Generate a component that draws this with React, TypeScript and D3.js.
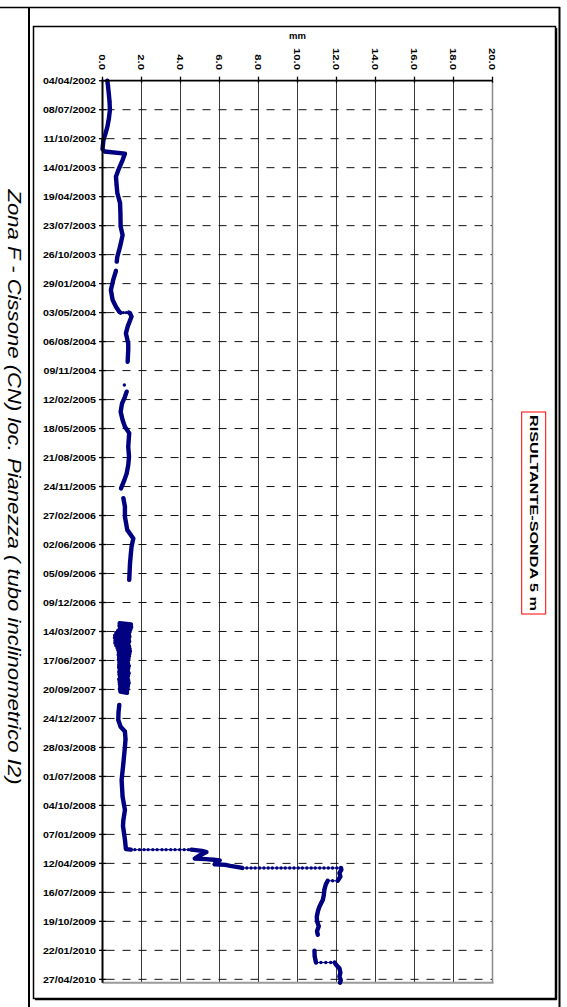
import React from "react";
import * as d3 from "d3";

const axisStart = "2002-04-04";
const axisEnd = "2010-05-08";
const valueTicks = [0, 2, 4, 6, 8, 10, 12, 14, 16, 18, 20];
const dateTickLabels = [
  "04/04/2002", "08/07/2002", "11/10/2002", "14/01/2003", "19/04/2003", "23/07/2003",
  "26/10/2003", "29/01/2004", "03/05/2004", "06/08/2004", "09/11/2004", "12/02/2005",
  "18/05/2005", "21/08/2005", "24/11/2005", "27/02/2006", "02/06/2006", "05/09/2006",
  "09/12/2006", "14/03/2007", "17/06/2007", "20/09/2007", "24/12/2007", "28/03/2008",
  "01/07/2008", "04/10/2008", "07/01/2009", "12/04/2009", "16/07/2009", "19/10/2009",
  "22/01/2010", "27/04/2010",
];
const titleText = "Zona F - Cissone (CN) loc. Pianezza ( tubo inclinometrico I2)";
const legendText = "RISULTANTE-SONDA 5 m";
const axisTitle = "mm";

// readings (date, mm); null = gap in the record; repeated dates = several readings on one day
const traceDates: (string | null)[] = [
  "2002-04-04", "2002-04-20", "2002-05-14", "2002-06-10", "2002-07-09", "2002-08-05",
  "2002-09-02", "2002-09-25", "2002-10-15", "2002-11-14", "2002-11-22", "2002-11-29",
  "2002-12-20", "2003-01-22", "2003-02-13", "2003-03-10", "2003-04-07", "2003-05-10",
  "2003-06-15", "2003-07-26", "2003-08-23", "2003-09-30", "2003-11-02", "2003-11-18",
  null,
  "2003-12-18", "2004-01-17", "2004-02-19", "2004-03-23", "2004-04-14", "2004-04-30",
  "2004-05-03", "2004-05-03", "2004-05-03", "2004-05-03",
  "2004-05-05", "2004-05-16", "2004-06-18", "2004-07-10", "2004-08-12", "2004-09-02", "2004-10-11",
  null,
  "2004-12-26",
  null,
  "2005-01-17", "2005-02-03", "2005-02-25", "2005-03-24", "2005-04-20", "2005-05-12",
  "2005-06-02", "2005-07-16", "2005-08-18", "2005-09-15", "2005-10-12", "2005-11-03", "2005-11-30",
  null,
  "2006-01-01", "2006-01-29", "2006-03-03", "2006-04-15", "2006-05-13", "2006-06-09",
  "2006-07-05", "2006-08-03", "2006-09-26",
  null,
  "2007-11-10", "2007-12-05", "2007-12-29", "2008-01-20", "2008-02-05", "2008-03-01",
  "2008-03-26", "2008-05-19", "2008-07-13", "2008-09-05", "2008-10-19", "2008-11-21",
  "2008-12-10", "2009-01-24", "2009-02-24",
  "2009-02-26", "2009-02-26", "2009-02-26", "2009-02-26", "2009-02-26", "2009-02-26", "2009-02-26", "2009-02-26",
  "2009-02-26", "2009-02-26", "2009-02-26", "2009-02-26", "2009-02-26", "2009-02-26", "2009-02-26",
  "2009-03-02", "2009-03-06", "2009-03-16", "2009-03-27", "2009-03-29", "2009-03-31",
  "2009-04-02", "2009-04-09", "2009-04-15", "2009-04-17", "2009-04-20", "2009-04-24",
  "2009-04-27", "2009-04-27", "2009-04-27", "2009-04-27", "2009-04-27", "2009-04-27", "2009-04-27", "2009-04-27",
  "2009-04-27", "2009-04-27", "2009-04-27", "2009-04-27", "2009-04-27", "2009-04-27", "2009-04-27", "2009-04-27",
  "2009-04-27", "2009-04-27", "2009-04-27", "2009-04-27", "2009-04-27", "2009-04-27", "2009-04-27", "2009-04-27",
  "2009-05-03", "2009-05-13", "2009-05-25", "2009-06-08", "2009-06-08", "2009-06-08",
  "2009-06-20", "2009-07-07", "2009-07-25", "2009-08-09", "2009-08-31", "2009-09-15",
  "2009-10-03", "2009-10-18", "2009-11-04", "2009-11-20", "2009-12-02",
  null,
  "2010-01-23", "2010-02-10", "2010-02-23",
  "2010-03-03", "2010-03-03", "2010-03-03", "2010-03-03", "2010-03-03",
  "2010-03-12", "2010-03-22", "2010-04-05", "2010-04-18", "2010-04-30", "2010-05-08",
];
const traceValues: (number | null)[] = [
  0.25, 0.28, 0.32, 0.36, 0.38, 0.33,
  0.25, 0.15, 0.05, 0.0, 0.1, 1.15,
  1.03, 0.81, 0.69, 0.72, 0.76, 0.9,
  0.92, 0.93, 1.03, 0.9, 0.76, 0.73,
  null,
  0.69, 0.55, 0.43, 0.52, 0.69, 0.86,
  0.92, 1.07, 1.22, 1.36,
  1.41, 1.49, 1.29, 1.2, 1.32, 1.32, 1.29,
  null,
  1.12,
  null,
  1.24, 1.15, 1.0, 0.93, 1.03, 1.15,
  1.37, 1.32, 1.36, 1.32, 1.24, 1.12, 0.95,
  null,
  1.07, 1.15, 1.15, 1.27, 1.58, 1.49,
  1.45, 1.41, 1.37,
  null,
  0.86, 0.82, 0.81, 0.93, 1.15, 1.18,
  1.15, 1.07, 0.98, 1.03, 1.15, 1.07,
  1.05, 1.15, 1.2,
  1.45, 1.66, 1.9, 2.13, 2.34, 2.58, 2.8, 3.05,
  3.26, 3.5, 3.72, 3.96, 4.19, 4.41, 4.56,
  5.1, 5.33, 5.0, 4.73, 5.3, 5.7,
  6.01, 5.8, 5.75, 6.3, 6.55, 6.95,
  7.17, 7.4, 7.62, 7.83, 8.06, 8.28, 8.5, 8.71,
  8.94, 9.16, 9.37, 9.6, 9.82, 10.04, 10.25, 10.48,
  10.7, 10.91, 11.14, 11.36, 11.58, 11.8, 12.02, 12.23,
  12.25, 12.15, 12.2, 12.06, 11.8, 11.55,
  11.45, 11.38, 11.35, 11.3, 11.13, 11.05,
  10.99, 11.0, 11.09, 11.0, 11.04,
  null,
  10.87, 10.88, 10.92,
  10.95, 11.2, 11.45, 11.7, 11.9,
  12.0, 12.15, 12.2, 12.15, 12.22, 12.18,
];

// noisy 2007 block of readings
const blobDates: string[] = [
  "2007-02-15", "2007-02-19", "2007-02-23", "2007-02-27", "2007-03-03", "2007-03-07",
  "2007-03-11", "2007-03-15", "2007-03-19", "2007-03-23", "2007-03-27", "2007-03-31",
  "2007-04-04", "2007-04-08", "2007-04-12", "2007-04-16", "2007-04-20", "2007-04-24",
  "2007-04-28", "2007-05-02", "2007-05-06", "2007-05-10", "2007-05-14", "2007-05-18",
  "2007-05-22", "2007-05-26", "2007-05-30", "2007-06-03", "2007-06-07", "2007-06-11",
  "2007-06-15", "2007-06-19", "2007-06-23", "2007-06-27", "2007-07-01", "2007-07-05",
  "2007-07-09", "2007-07-13", "2007-07-17", "2007-07-21", "2007-07-25", "2007-07-29",
  "2007-08-02", "2007-08-06", "2007-08-10", "2007-08-14", "2007-08-18", "2007-08-22",
  "2007-08-26", "2007-08-30", "2007-09-03", "2007-09-07", "2007-09-11", "2007-09-15",
  "2007-09-19", "2007-09-23", "2007-09-27", "2007-10-01",
];
const blobValues: number[] = [
  0.88, 1.46, 0.87, 1.47, 0.89, 1.43,
  0.81, 1.39, 0.71, 1.36, 0.65, 1.38,
  0.64, 1.35, 0.67, 1.37, 0.66, 1.33,
  0.71, 1.36, 0.77, 1.39, 0.81, 1.41,
  0.84, 1.38, 0.83, 1.36, 0.85, 1.33,
  0.84, 1.29, 0.87, 1.31, 0.86, 1.35,
  0.85, 1.32, 0.88, 1.3, 0.86, 1.34,
  0.87, 1.31, 0.89, 1.29, 0.86, 1.32,
  0.88, 1.34, 0.89, 1.31, 0.91, 1.29,
  0.89, 1.27, 0.92, 1.26,
];

type Pt = { key: string; d: Date; v: number };

const parseISO = d3.utcParse("%Y-%m-%d");
const parseDMY = d3.utcParse("%d/%m/%Y");

function splitSegments(dates: (string | null)[], values: (number | null)[]): Pt[][] {
  const segs: Pt[][] = [];
  let cur: Pt[] = [];
  const n = Math.min(dates.length, values.length);
  for (let i = 0; i < n; i++) {
    const ds = dates[i];
    const v = values[i];
    if (ds === null || v === null) {
      if (cur.length) segs.push(cur);
      cur = [];
      continue;
    }
    cur.push({ key: ds, d: parseISO(ds) as Date, v });
  }
  if (cur.length) segs.push(cur);
  return segs;
}

export default function App() {
  const L = 102.5, R = 492.5, T = 80.7, B = 982.7;
  const x = d3.scaleLinear().domain([0, 20]).range([L, R]);
  const y = d3.scaleUtc()
    .domain([parseISO(axisStart) as Date, parseISO(axisEnd) as Date])
    .range([T, B]);
  const navy = "#000080";
  const font = "'Liberation Sans', Arial, Helvetica, sans-serif";

  const segs = [...splitSegments(traceDates, traceValues), ...splitSegments(blobDates, blobValues)];
  const line = d3.line<Pt>().x((p) => x(p.v)).y((p) => y(p.d));

  const thick: string[] = [];
  const thin: [Pt, Pt][] = [];
  const pts: Pt[] = [];
  segs.forEach((seg) => {
    let run: Pt[] = [seg[0]];
    for (let i = 1; i < seg.length; i++) {
      if (seg[i].key === seg[i - 1].key) {
        thin.push([seg[i - 1], seg[i]]);
        if (run.length > 1) thick.push(line(run) as string);
        run = [seg[i]];
      } else {
        run.push(seg[i]);
      }
    }
    if (run.length > 1) thick.push(line(run) as string);
    pts.push(...seg);
  });

  const dateTicks = dateTickLabels.map((s) => ({ s, d: parseDMY(s) as Date }));

  return (
    <svg
      width={567}
      height={1007}
      viewBox="0 0 567 1007"
      style={{ position: "absolute", left: 0, top: 0, display: "block", background: "#fff" }}
      fontFamily={font}
    >
      <rect x={0} y={0} width={567} height={1007} fill="#fff" />
      {/* outer frame */}
      <line x1={0} y1={7.5} x2={560} y2={7.5} stroke="#000" strokeWidth={1.5} />
      <line x1={29} y1={7} x2={29} y2={1007} stroke="#000" strokeWidth={2} />
      <line x1={559.5} y1={7} x2={559.5} y2={1007} stroke="#000" strokeWidth={2} />
      {/* chart box */}
      <rect x={33.5} y={26.5} width={522} height={972} fill="none" stroke="#000" strokeWidth={1.5} />
      <line x1={556.5} y1={28} x2={556.5} y2={999.5} stroke="#000" strokeWidth={1.5} />
      <line x1={35} y1={999.5} x2={557} y2={999.5} stroke="#000" strokeWidth={1.5} />

      {/* title */}
      <text
        transform={`translate(14, 487) rotate(90)`}
        textAnchor="middle"
        dominantBaseline="central"
        fontStyle="italic"
        fontSize={19}
        textLength={595}
        lengthAdjust="spacingAndGlyphs"
        fill="#000"
      >
        {titleText}
      </text>

      {/* vertical gridlines */}
      {valueTicks.filter((v) => v > 0).map((v) => (
        <line key={"vg" + v} x1={x(v)} y1={T} x2={x(v)} y2={B} stroke="#3a3a3a" strokeWidth={1} />
      ))}
      {/* horizontal dashed gridlines */}
      {dateTicks.slice(1).map((t) => (
        <line
          key={"hg" + t.s}
          x1={L}
          y1={y(t.d)}
          x2={R}
          y2={y(t.d)}
          stroke="#111"
          strokeWidth={1}
          strokeDasharray="8 8"
          strokeDashoffset={-4}
        />
      ))}
      {/* plot border (bottom, right) */}
      <line x1={L} y1={B} x2={R + 1} y2={B} stroke="#9a9a9a" strokeWidth={2} />
      <line x1={R} y1={T} x2={R} y2={B} stroke="#8a8a8a" strokeWidth={1.5} />

      {/* data */}
      {thick.map((d, i) => (
        <path key={"tk" + i} d={d} fill="none" stroke={navy} strokeWidth={4.4} strokeLinejoin="round" strokeLinecap="round" />
      ))}
      {thin.map(([a, b], i) => (
        <line key={"tn" + i} x1={x(a.v)} y1={y(a.d)} x2={x(b.v)} y2={y(b.d)} stroke={navy} strokeWidth={1} />
      ))}
      {pts.map((p, i) => (
        <circle key={"pt" + i} cx={x(p.v)} cy={y(p.d)} r={1.7} fill={navy} />
      ))}

      {/* top value axis */}
      <line x1={L - 1} y1={T} x2={R} y2={T} stroke="#000" strokeWidth={1.8} />
      {valueTicks.map((v) => (
        <g key={"vt" + v}>
          <line x1={x(v)} y1={T - 4} x2={x(v)} y2={T + 2} stroke="#000" strokeWidth={1.3} />
          <text
            transform={`translate(${x(v)}, 70) rotate(90) scale(1.18, 1)`}
            textAnchor="end"
            dominantBaseline="central"
            fontSize={9.6}
            fontWeight="bold"
            fill="#000"
          >
            {v.toFixed(1)}
          </text>
        </g>
      ))}
      <text x={(L + R) / 2} y={39} textAnchor="middle" fontSize={9.5} fontWeight="bold" fill="#000">
        {axisTitle}
      </text>

      {/* left date axis */}
      <line x1={L} y1={T - 1} x2={L} y2={B} stroke="#000" strokeWidth={2} />
      {dateTicks.map((t) => (
        <g key={"dt" + t.s}>
          <line x1={L - 3.5} y1={y(t.d)} x2={L + 4} y2={y(t.d)} stroke="#000" strokeWidth={1.3} />
          <text
            transform={`translate(96, ${y(t.d)}) scale(1.13, 1)`}
            textAnchor="end"
            dominantBaseline="central"
            fontSize={9.4}
            fontWeight="bold"
            fill="#000"
          >
            {t.s}
          </text>
        </g>
      ))}

      {/* legend */}
      <rect x={521.7} y={412} width={24} height={202} fill="none" stroke="#ff0000" strokeWidth={1} />
      <text
        transform={`translate(533.7, 513) rotate(90)`}
        textAnchor="middle"
        dominantBaseline="central"
        fontSize={10.5}
        fontWeight="bold"
        textLength={196}
        lengthAdjust="spacingAndGlyphs"
        fill="#000"
      >
        {legendText}
      </text>
    </svg>
  );
}
